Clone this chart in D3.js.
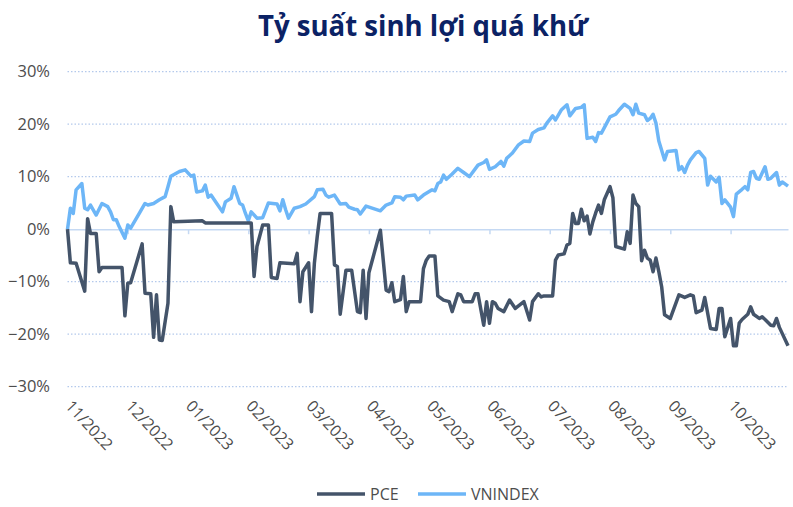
<!DOCTYPE html>
<html>
<head>
<meta charset="utf-8">
<script src="https://cdn.jsdelivr.net/npm/d3@7"></script>
<style>
  html, body { margin: 0; padding: 0; background: #fff; }
  svg { display: block; font-family: "Open Sans", "Noto Sans", sans-serif; }
</style>
</head>
<body>
<div id="chart"></div>
<script>
// tiêu đề + nhãn
const chartTitle = "Tỷ suất sinh lợi quá khứ";
const monthLabels = ["11/2022", "12/2022", "01/2023", "02/2023", "03/2023", "04/2023",
                     "05/2023", "06/2023", "07/2023", "08/2023", "09/2023", "10/2023"];
const labelEvery = 21;      // số phiên giữa 2 nhãn tháng
const lastSession = 251;
const yTicks = [-0.3, -0.2, -0.1, 0, 0.1, 0.2, 0.3];
const seriesNames = ["PCE", "VNINDEX"];

// [phiên, lợi suất %]
const pceData = [
  [0, 0.0], [1, -6.4], [3, -6.5], [6, -11.8], [7, 2.0], [8, -0.8], [10, -0.8], [11, -8.1],
  [12, -7.3], [19, -7.3], [20, -16.5], [21, -10.3], [22, -10.2], [26, -2.8], [27, -12.2],
  [29, -12.3], [30, -20.6], [31, -12.5], [32, -21.1], [33, -21.2], [35, -14.1], [36, 4.3],
  [37, 1.4], [47, 1.6], [48, 1.2], [64, 1.2], [65, -9.0], [66, -3.3], [68, 0.8], [70, 0.8],
  [71, -9.2], [73, -9.4], [74, -6.4], [79, -6.6], [80, -4.6], [81, -13.8], [82, -8.1],
  [84, -6.4], [85, -15.7], [86, -6.5], [87, -1.4], [88, 3.0], [92, 3.0], [93, -6.8],
  [94, -7.1], [95, -16.2], [97, -7.8], [99, -7.8], [101, -15.7], [102, -15.9], [103, -7.8],
  [104, -17.0], [105, -8.3], [109, -0.2], [111, -11.6], [112, -11.9], [113, -10.2],
  [114, -13.8], [116, -13.4], [117, -9.0], [118, -15.7], [119, -13.8], [123, -13.8],
  [124, -7.5], [125, -5.9], [126, -5.1], [128, -5.1], [129, -12.7], [131, -13.5],
  [133, -13.8], [134, -15.7], [136, -12.3], [137, -12.5], [138, -13.8], [141, -13.8],
  [142, -12.3], [143, -12.3], [145, -18.3], [146, -13.8], [147, -17.9], [148, -13.8],
  [149, -14.1], [150, -15.1], [152, -15.7], [154, -13.5], [156, -15.1], [159, -13.8],
  [161, -17.3], [162, -13.8], [164, -12.3], [165, -12.9], [166, -12.7], [169, -12.7],
  [170, -5.9], [171, -4.9], [173, -4.7], [174, -3.0], [175, -2.7], [176, 3.0], [177, 1.1],
  [178, 1.1], [179, 3.8], [180, 1.6], [181, 2.5], [182, -0.9], [183, 1.4], [184, 3.1],
  [185, 4.6], [186, 3.0], [187, 5.6], [189, 8.1], [190, 6.0], [191, -3.3], [194, -3.8],
  [195, -0.5], [196, -2.7], [197, 6.5], [198, 4.9], [199, 4.3], [200, -6.0], [201, -4.0],
  [202, -5.5], [203, -5.9], [204, -8.1], [205, -5.5], [206, -8.1], [207, -11.0],
  [208, -16.3], [210, -17.0], [213, -12.5], [215, -13.0], [217, -12.5], [218, -12.7],
  [219, -15.9], [221, -15.4], [222, -13.0], [224, -18.9], [226, -19.1], [227, -15.1],
  [228, -15.1], [229, -20.5], [231, -17.0], [232, -22.2], [233, -22.2], [234, -17.9],
  [235, -17.2], [237, -16.2], [238, -14.8], [239, -16.2], [241, -17.0], [242, -16.7],
  [243, -17.2], [245, -18.3], [246, -18.4], [247, -17.0], [248, -18.7], [251, -22.2]
];

const vnData = [
  [0, 0.0], [1, 4.0], [2, 3.0], [3, 7.5], [5, 8.7], [6, 4.0], [7, 3.7], [8, 4.6], [10, 2.7],
  [12, 4.9], [14, 4.3], [15, 3.3], [16, 1.8], [17, 1.8], [18, 0.5], [20, -1.7], [21, 0.8],
  [22, 0.2], [25, 3.0], [27, 4.9], [28, 4.6], [30, 4.9], [32, 5.6], [34, 6.2], [35, 8.1],
  [36, 10.1], [39, 11.0], [41, 11.3], [43, 10.1], [44, 10.3], [45, 7.1], [47, 7.3],
  [48, 8.4], [49, 6.1], [50, 6.5], [52, 4.9], [54, 3.3], [55, 5.2], [57, 5.9], [58, 8.1],
  [60, 4.9], [61, 4.6], [62, 3.0], [63, 1.6], [64, 3.3], [66, 2.1], [68, 2.2], [70, 5.0],
  [73, 4.8], [74, 3.5], [75, 5.6], [76, 3.7], [77, 2.1], [79, 4.0], [81, 4.3], [83, 4.8],
  [86, 6.2], [87, 7.5], [89, 7.6], [90, 6.5], [91, 6.1], [93, 6.5], [95, 4.8], [97, 4.9],
  [98, 4.2], [100, 3.8], [101, 3.7], [102, 2.9], [104, 4.4], [109, 3.5], [111, 4.6],
  [113, 5.0], [114, 6.2], [116, 6.1], [117, 5.6], [118, 6.3], [121, 6.5], [122, 5.6],
  [124, 6.5], [127, 7.5], [128, 7.3], [129, 8.7], [130, 9.0], [131, 10.3], [132, 9.5],
  [134, 10.5], [136, 11.6], [138, 10.8], [140, 10.0], [143, 12.2], [145, 12.7], [146, 13.2],
  [147, 11.4], [149, 11.9], [151, 12.9], [152, 12.0], [153, 13.5], [155, 14.5], [157, 16.0],
  [159, 16.8], [161, 16.7], [162, 18.3], [164, 19.0], [166, 19.3], [167, 20.2], [169, 21.6],
  [170, 20.8], [172, 22.7], [174, 23.7], [175, 21.6], [177, 23.0], [179, 23.2], [180, 23.7],
  [181, 17.3], [183, 17.5], [184, 16.7], [185, 18.4], [186, 18.3], [189, 21.4], [191, 21.9],
  [192, 22.6], [194, 23.8], [196, 23.0], [197, 21.8], [198, 23.8], [199, 22.1], [201, 21.8],
  [202, 20.7], [203, 21.1], [204, 21.9], [205, 20.2], [206, 16.8], [208, 13.2], [209, 14.8],
  [212, 15.0], [213, 11.3], [214, 11.9], [215, 10.8], [216, 12.2], [217, 13.2], [219, 14.6],
  [220, 14.8], [222, 13.5], [223, 8.4], [224, 10.1], [226, 9.0], [227, 9.9], [228, 4.9],
  [229, 5.6], [231, 4.2], [232, 2.4], [233, 6.7], [235, 7.6], [236, 8.1], [237, 7.5],
  [238, 10.8], [239, 11.0], [240, 9.7], [241, 9.5], [243, 11.9], [244, 9.5], [245, 9.7],
  [247, 10.8], [248, 8.4], [249, 9.0], [251, 8.2]
];

const width = 793, height = 507;
const colors = { pce: "#44546A", vn: "#6DB6F7", grid: "#B4C9EC", axis: "#C5D9F3", text: "#4D4D4D", title: "#0B2265" };

const svg = d3.select("#chart").append("svg")
    .attr("width", width)
    .attr("height", height);

const x = d3.scaleLinear().domain([0, lastSession]).range([67.5, 788]);
const y = d3.scaleLinear().domain([-0.3, 0.3]).range([386.7, 71.7]);

// tiêu đề
svg.append("text")
    .attr("x", 423)
    .attr("y", 36)
    .attr("text-anchor", "middle")
    .attr("font-size", 28)
    .attr("font-weight", 700)
    .attr("textLength", 330)
    .attr("lengthAdjust", "spacingAndGlyphs")
    .attr("fill", colors.title)
    .text(chartTitle);

// lưới ngang chấm
svg.append("g")
    .selectAll("line")
    .data(yTicks.filter(d => d !== 0))
    .join("line")
    .attr("x1", x(0))
    .attr("x2", x(lastSession))
    .attr("y1", d => y(d))
    .attr("y2", d => y(d))
    .attr("stroke", colors.grid)
    .attr("stroke-width", 1.2)
    .attr("stroke-dasharray", "1.5,2");

// trục Y
const yAxis = svg.append("g")
    .attr("transform", "translate(50,0)")
    .call(d3.axisLeft(y).tickValues(yTicks).tickFormat(d3.format(".0%")).tickSize(0).tickPadding(0));
yAxis.select(".domain").remove();
yAxis.selectAll("text")
    .attr("font-size", 16.5)
    .attr("font-family", "Open Sans, sans-serif")
    .attr("fill", colors.text);

// đường 0% + vạch tháng
const tickIdx = d3.range(0, monthLabels.length + 1).map(i => i * labelEvery);
const xAxis = svg.append("g")
    .attr("transform", `translate(0,${y(0)})`)
    .call(d3.axisBottom(x).tickValues(tickIdx.filter(d => d <= lastSession)).tickFormat("").tickSizeInner(5).tickSizeOuter(0));
xAxis.select(".domain").attr("stroke", colors.axis).attr("stroke-width", 1.5);
xAxis.selectAll(".tick line").attr("stroke", colors.axis).attr("stroke-width", 1.5);

// nhãn tháng xoay
svg.append("g")
    .selectAll("text")
    .data(monthLabels)
    .join("text")
    .attr("transform", (d, i) => `translate(${x(i * labelEvery) + 1},${403}) rotate(47)`)
    .attr("text-anchor", "start")
    .attr("dy", "0.35em")
    .attr("font-size", 16)
    .attr("fill", colors.text)
    .text(d => d);

// các đường
const line = d3.line()
    .x(d => x(d[0]))
    .y(d => y(d[1] / 100));

svg.append("path")
    .datum(vnData)
    .attr("fill", "none")
    .attr("stroke", colors.vn)
    .attr("stroke-width", 3.5)
    .attr("stroke-linejoin", "round")
    .attr("d", line);

svg.append("path")
    .datum(pceData)
    .attr("fill", "none")
    .attr("stroke", colors.pce)
    .attr("stroke-width", 3.5)
    .attr("stroke-linejoin", "round")
    .attr("d", line);

// chú thích
const legend = svg.append("g").attr("transform", "translate(0,494)");
const legendItems = [
    { name: seriesNames[0], color: colors.pce, x: 317 },
    { name: seriesNames[1], color: colors.vn, x: 418 }
];
legendItems.forEach(item => {
    legend.append("line")
        .attr("x1", item.x).attr("x2", item.x + 48)
        .attr("y1", 0).attr("y2", 0)
        .attr("stroke", item.color)
        .attr("stroke-width", 3.5);
    legend.append("text")
        .attr("x", item.x + 53)
        .attr("y", 0)
        .attr("dy", "0.35em")
        .attr("font-size", 16)
        .attr("fill", colors.text)
        .text(item.name);
});
</script>
</body>
</html>
